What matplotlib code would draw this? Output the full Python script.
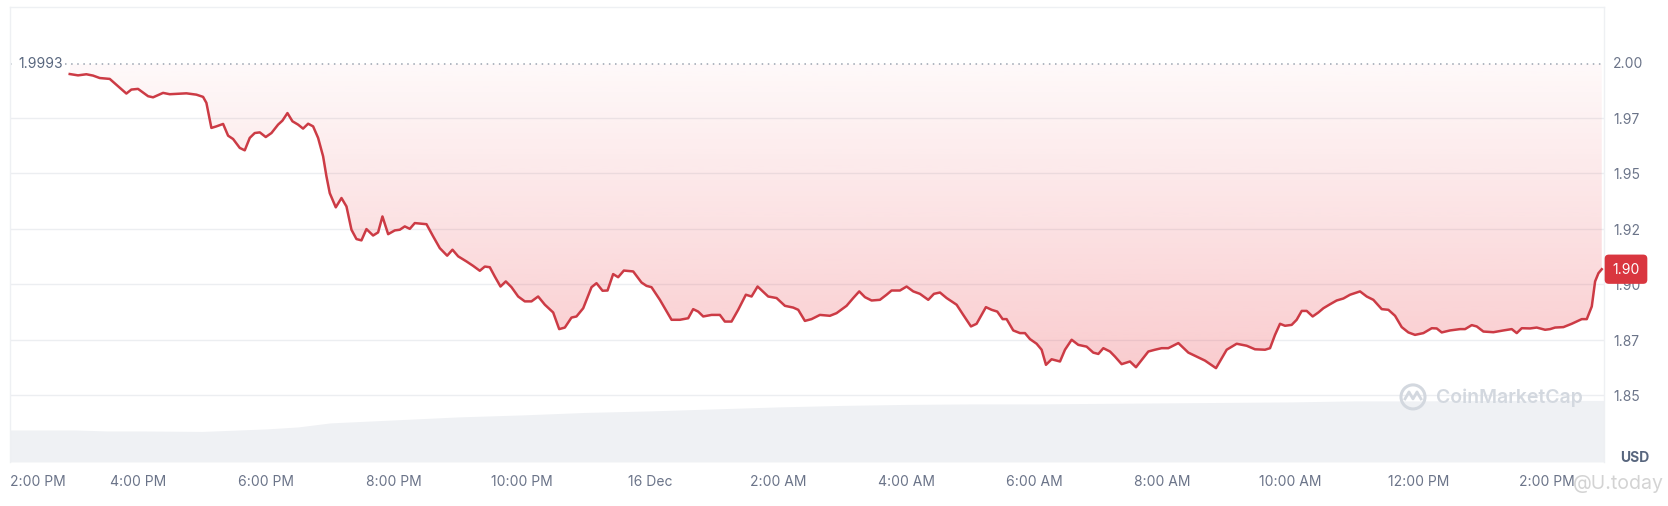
import numpy as np
import matplotlib
matplotlib.use('Agg')
import matplotlib.pyplot as plt
from matplotlib.patches import Ellipse
from matplotlib.colors import to_rgb
from matplotlib.transforms import blended_transform_factory

# ---------------- data ----------------
# time in hours after 2:00 PM (15 Dec)
hours = [0.933, 1.063, 1.193, 1.297, 1.402, 1.558, 1.688, 1.818, 1.896, 2.000,
         2.157, 2.235, 2.391, 2.495, 2.756, 2.912, 3.016, 3.068, 3.146, 3.224,
         3.329, 3.407, 3.485, 3.589, 3.667, 3.745, 3.823, 3.902, 3.995, 4.084,
         4.188, 4.256, 4.334, 4.412, 4.500, 4.578, 4.657, 4.735, 4.813, 4.891,
         4.943, 4.995, 5.089, 5.178, 5.256, 5.334, 5.412, 5.490, 5.568, 5.672,
         5.750, 5.818, 5.907, 6.011, 6.089, 6.167, 6.245, 6.323, 6.506, 6.610,
         6.714, 6.829, 6.912, 7.001, 7.131, 7.235, 7.339, 7.417, 7.495, 7.573,
         7.662, 7.745, 7.834, 7.938, 8.042, 8.146, 8.250, 8.355, 8.485, 8.579,
         8.667, 8.771, 8.849, 8.954, 9.084, 9.162, 9.256, 9.334, 9.422, 9.500,
         9.589, 9.735, 9.865, 9.943, 10.021, 10.152, 10.334, 10.464, 10.594, 10.672,
         10.750, 10.829, 10.959, 11.089, 11.167, 11.271, 11.375, 11.495, 11.584, 11.678,
         11.844, 11.975, 12.105, 12.235, 12.313, 12.417, 12.521, 12.652, 12.808, 12.912,
         13.068, 13.172, 13.266, 13.355, 13.459, 13.589, 13.693, 13.771, 13.902, 14.006,
         14.110, 14.214, 14.344, 14.433, 14.527, 14.631, 14.787, 14.891, 15.011, 15.099,
         15.245, 15.334, 15.422, 15.506, 15.568, 15.672, 15.777, 15.855, 15.933, 16.037,
         16.115, 16.183, 16.271, 16.402, 16.480, 16.584, 16.688, 16.818, 16.922, 17.001,
         17.079, 17.183, 17.261, 17.365, 17.495, 17.589, 17.678, 17.782, 17.886, 17.990,
         18.094, 18.251, 18.407, 18.537, 18.667, 18.839, 19.006, 19.162, 19.318, 19.448,
         19.605, 19.683, 19.761, 19.839, 19.917, 20.021, 20.099, 20.178, 20.256, 20.349,
         20.438, 20.516, 20.620, 20.724, 20.829, 20.933, 21.089, 21.193, 21.297, 21.428,
         21.532, 21.636, 21.740, 21.844, 21.948, 22.079, 22.209, 22.287, 22.365, 22.495,
         22.652, 22.730, 22.834, 22.912, 23.016, 23.172, 23.329, 23.459, 23.537, 23.615,
         23.745, 23.849, 23.980, 24.058, 24.136, 24.266, 24.396, 24.553, 24.631, 24.709,
         24.761, 24.813, 24.865]

price = [1.9948, 1.9942, 1.9947, 1.9941, 1.9930, 1.9926, 1.9893, 1.9860, 1.9878, 1.9881,
         1.9848, 1.9843, 1.9863, 1.9857, 1.9861, 1.9855, 1.9845, 1.9818, 1.9705, 1.9712,
         1.9723, 1.9670, 1.9655, 1.9615, 1.9604, 1.9660, 1.9682, 1.9685, 1.9664, 1.9682,
         1.9720, 1.9738, 1.9772, 1.9735, 1.9720, 1.9702, 1.9724, 1.9712, 1.9660, 1.9577,
         1.9487, 1.9411, 1.9347, 1.9389, 1.9351, 1.9246, 1.9204, 1.9198, 1.9249, 1.9220,
         1.9234, 1.9306, 1.9226, 1.9243, 1.9246, 1.9261, 1.9250, 1.9276, 1.9271, 1.9216,
         1.9163, 1.9129, 1.9156, 1.9126, 1.9103, 1.9083, 1.9061, 1.9080, 1.9077, 1.9035,
         1.8990, 1.9013, 1.8987, 1.8945, 1.8923, 1.8923, 1.8945, 1.8908, 1.8873, 1.8798,
         1.8805, 1.8850, 1.8855, 1.8892, 1.8987, 1.9005, 1.8971, 1.8972, 1.9046, 1.9032,
         1.9062, 1.9058, 1.9008, 1.8993, 1.8987, 1.8930, 1.8840, 1.8840, 1.8847, 1.8888,
         1.8877, 1.8855, 1.8862, 1.8862, 1.8832, 1.8832, 1.8885, 1.8953, 1.8945, 1.8990,
         1.8945, 1.8938, 1.8903, 1.8895, 1.8885, 1.8835, 1.8843, 1.8862, 1.8858, 1.8870,
         1.8903, 1.8938, 1.8968, 1.8942, 1.8927, 1.8930, 1.8953, 1.8972, 1.8972, 1.8990,
         1.8968, 1.8957, 1.8930, 1.8957, 1.8963, 1.8938, 1.8908, 1.8862, 1.8810, 1.8822,
         1.8897, 1.8885, 1.8877, 1.8843, 1.8843, 1.8792, 1.8780, 1.8780, 1.8753, 1.8732,
         1.8705, 1.8637, 1.8662, 1.8652, 1.8705, 1.8750, 1.8727, 1.8719, 1.8692, 1.8686,
         1.8712, 1.8697, 1.8674, 1.8640, 1.8652, 1.8626, 1.8659, 1.8697, 1.8705, 1.8712,
         1.8712, 1.8735, 1.8692, 1.8674, 1.8656, 1.8622, 1.8705, 1.8732, 1.8723, 1.8707,
         1.8705, 1.8712, 1.8772, 1.8822, 1.8813, 1.8817, 1.8840, 1.8880, 1.8880, 1.8855,
         1.8873, 1.8892, 1.8910, 1.8927, 1.8936, 1.8953, 1.8968, 1.8945, 1.8930, 1.8888,
         1.8885, 1.8858, 1.8807, 1.8783, 1.8772, 1.8780, 1.8802, 1.8801, 1.8783, 1.8792,
         1.8798, 1.8798, 1.8816, 1.8810, 1.8787, 1.8784, 1.8792, 1.8798, 1.8780, 1.8802,
         1.8801, 1.8805, 1.8795, 1.8798, 1.8805, 1.8807, 1.8822, 1.8843, 1.8843, 1.8900,
         1.9013, 1.9050, 1.9068]

# volume (arbitrary units, billions USD)
vol_hours = [0, 1, 1.5, 2, 3, 4, 4.5, 5, 6, 7, 8, 9, 10, 11, 12, 13, 14,
             15, 16, 17, 18, 19, 20, 21, 22, 23, 24, 24.9]
vol_values = [3.2, 3.2, 3.1, 3.1, 3.05, 3.3, 3.5, 3.9, 4.2, 4.5, 4.7, 4.95, 5.1,
              5.3, 5.5, 5.65, 5.75, 5.8, 5.8, 5.85, 5.9, 5.95, 6.0, 6.1, 6.1,
              6.15, 6.15, 6.15]

ref_price = 1.9993
ref_label = '1.9993'
last_label = '1.90'

ytick_vals = [1.85, 1.875, 1.90, 1.925, 1.95, 1.975, 2.00]
ytick_labels = ['1.85', '1.87', '1.90', '1.92', '1.95', '1.97', '2.00']
xtick_hours = [0, 2, 4, 6, 8, 10, 12, 14, 16, 18, 20, 22, 24]
xtick_labels = ['2:00 PM', '4:00 PM', '6:00 PM', '8:00 PM', '10:00 PM', '16 Dec',
                '2:00 AM', '4:00 AM', '6:00 AM', '8:00 AM', '10:00 AM',
                '12:00 PM', '2:00 PM']

# ---------------- style ----------------
plt.rcParams['font.family'] = ['Inter', 'DejaVu Sans']
RED = '#ea3943'
LINE = '#cc3b45'
TXT = '#6b7489'
W, H = 1668, 506

fig = plt.figure(figsize=(W / 100, (H + 0.4) / 100), dpi=100)
rect = [10 / W, 1 - 462 / H, 1594 / W, 455 / H]

# volume axes (drawn first, below)
axv = fig.add_axes(rect)
axv.fill_between(vol_hours, vol_values, 0, color='#eff1f4', lw=0)
axv.set_xlim(0, 24.9)
axv.set_ylim(0, 45.5)
axv.axis('off')

ax = fig.add_axes(rect)
ax.patch.set_visible(False)
ax.set_xlim(0, 24.9)
ax.set_ylim(1.8199, 2.0252)

# grid
ax.hlines(ytick_vals[:-1], 0, 1, transform=ax.get_yaxis_transform(),
          color='#eceef1', lw=1, zorder=0.5)

# gradient fill between the line and the reference price
poly = ax.fill_between(hours, price, ref_price, facecolor='none', edgecolor='none')
path = poly.get_paths()[0]
n = 256
rgb = to_rgb(RED)
grad = np.zeros((n, 1, 4))
grad[:, 0, 0] = rgb[0]
grad[:, 0, 1] = rgb[1]
grad[:, 0, 2] = rgb[2]
grad[:, 0, 3] = np.linspace(0.03, 0.27, n)
img = ax.imshow(grad, extent=[hours[0], hours[-1], 1.855, ref_price],
                aspect='auto', origin='upper', interpolation='bilinear', zorder=1)
img.set_clip_path(path, ax.transData)
ax.set_xlim(0, 24.9)
ax.set_ylim(1.8199, 2.0252)

# reference dotted line + label
ax.axhline(ref_price, color='#9aa3b0', lw=1.1, ls=(0, (1, 3)), zorder=2)
ax.text(0.005, ref_price, ref_label, transform=ax.get_yaxis_transform(),
        ha='left', va='center', fontsize=10, color='#58667e', zorder=4,
        bbox=dict(fc='white', ec='none', pad=1.5))

# price line
ax.plot(hours, price, color=LINE, lw=1.8, zorder=3, solid_joinstyle='round')

# axes styling
for s in ax.spines.values():
    s.set_color('#eef0f3')
    s.set_linewidth(1)
ax.spines['bottom'].set_visible(False)
ax.yaxis.tick_right()
ax.set_yticks(ytick_vals, ytick_labels)
ax.set_xticks(xtick_hours, xtick_labels)
ax.tick_params(axis='x', length=0, pad=9, labelsize=10, labelcolor=TXT)
ax.tick_params(axis='y', length=0, pad=6.5, labelsize=10, labelcolor=TXT)
ax.get_xticklabels()[0].set_ha('left')

# last value badge
tr = blended_transform_factory(ax.transAxes, ax.transData)
ax.text(1 + 22 / 1594, price[-1], last_label, transform=tr, ha='center', va='center',
        color='white', fontsize=10, zorder=10, clip_on=False,
        bbox=dict(boxstyle='round,pad=0.55,rounding_size=0.3', fc='#d9363f', ec='none'))

# USD label
fig.text(1635 / W, 1 - 458 / H, 'USD', fontsize=10, fontweight='bold',
         color='#58667e', ha='center', va='center')

# CoinMarketCap watermark
wm = '#d3d8df'
fig.text(1436 / W, 1 - 397 / H, 'CoinMarketCap', fontsize=14, fontweight='semibold',
         color=wm, ha='left', va='center')
fig.add_artist(Ellipse((1413 / W, 1 - 397 / H), 24 / W, 24 / H, transform=fig.transFigure,
                       fill=False, ec=wm, lw=2.2))
fig.add_artist(plt.Line2D([1405 / W, 1409 / W, 1413 / W, 1417 / W, 1421 / W],
                          [1 - 399 / H, 1 - 392 / H, 1 - 399 / H, 1 - 392 / H, 1 - 399 / H],
                          transform=fig.transFigure, color=wm, lw=2))

# U.today watermark
fig.text(1664 / W, 1 - 484 / H, '@U.today', fontsize=14, color='#cfcfcf',
         ha='right', va='center', alpha=0.9)

fig.savefig('out.png', dpi=100, facecolor='white')
